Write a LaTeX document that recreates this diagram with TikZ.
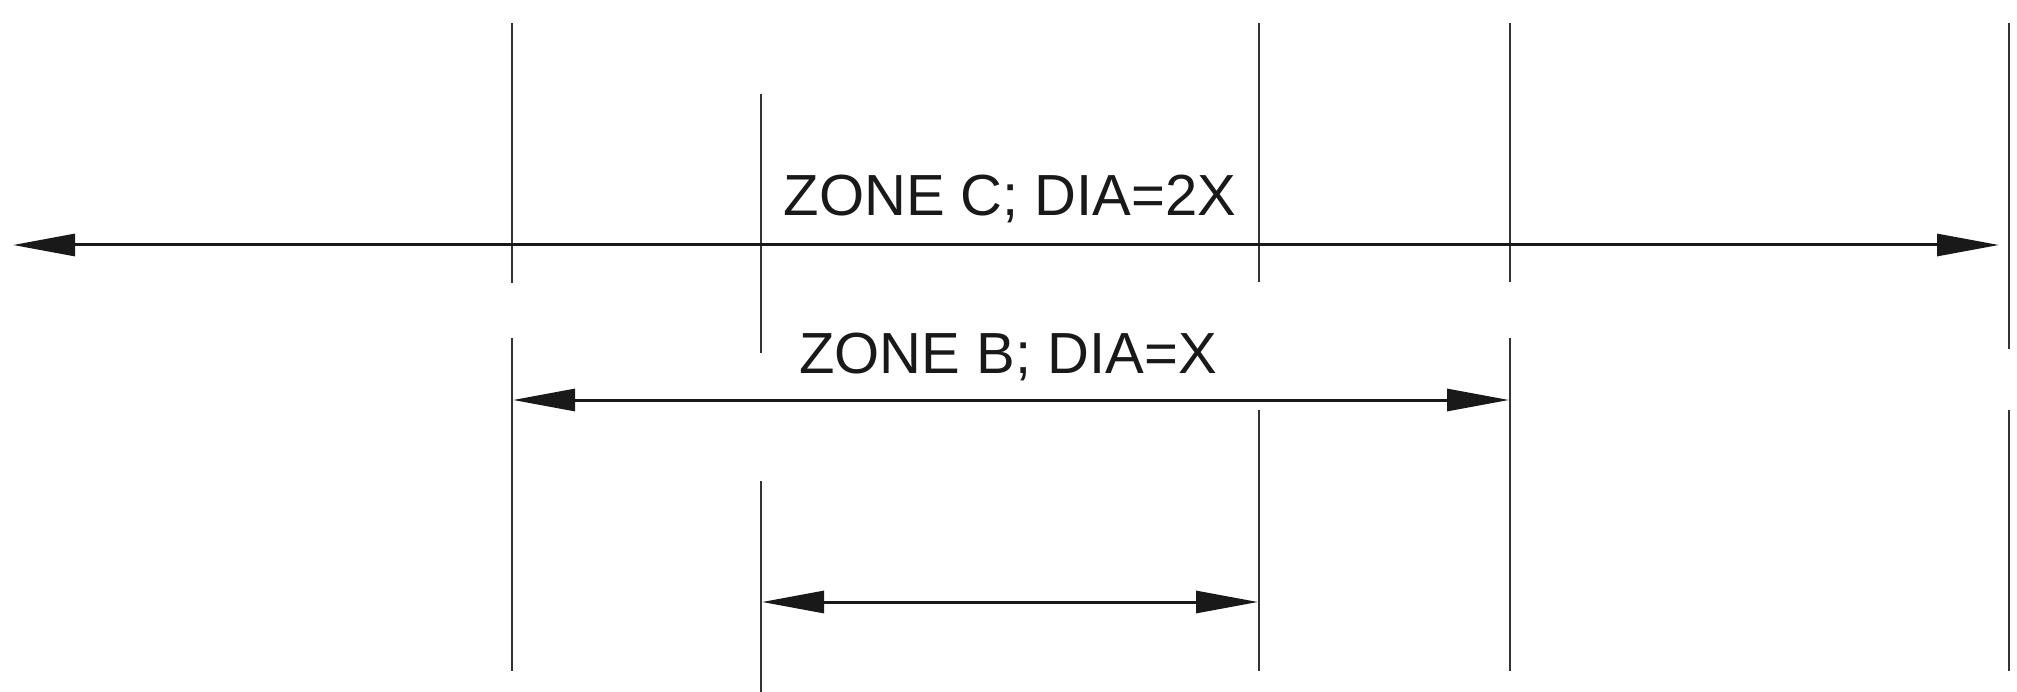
\documentclass[tikz,border=0pt]{standalone}
\usepackage{fontspec}
\setmainfont{Liberation Sans}
\usetikzlibrary{arrows.meta}
\tikzset{
  extline/.style={draw=black!80, line width=1.4pt},
  dimline/.style={draw=black!90, line width=3pt, {Triangle[length=62pt,width=22pt]}-{Triangle[length=62pt,width=22pt]}},
  label/.style={font=\fontsize{58}{62}\selectfont, anchor=base, inner sep=0pt, text=black!90}
}
\begin{document}
\begin{tikzpicture}[x=1pt,y=-1pt]
\useasboundingbox (0,0) rectangle (2017,692);
% extension lines
\coordinate (v1a) at (512,23);  \coordinate (v1b) at (512,283);
\coordinate (v1c) at (512,338); \coordinate (v1d) at (512,671);
\coordinate (v2a) at (761,94);  \coordinate (v2b) at (761,353);
\coordinate (v2c) at (761,481); \coordinate (v2d) at (761,692);
\coordinate (v3a) at (1259,23); \coordinate (v3b) at (1259,282);
\coordinate (v3c) at (1259,410);\coordinate (v3d) at (1259,671);
\coordinate (v4a) at (1510,23); \coordinate (v4b) at (1510,282);
\coordinate (v4c) at (1510,338);\coordinate (v4d) at (1510,671);
\coordinate (v5a) at (2009,23); \coordinate (v5b) at (2009,349);
\coordinate (v5c) at (2009,410);\coordinate (v5d) at (2009,671);
\draw[extline] (v1a) -- (v1b); \draw[extline] (v1c) -- (v1d);
\draw[extline] (v2a) -- (v2b); \draw[extline] (v2c) -- (v2d);
\draw[extline] (v3a) -- (v3b); \draw[extline] (v3c) -- (v3d);
\draw[extline] (v4a) -- (v4b); \draw[extline] (v4c) -- (v4d);
\draw[extline] (v5a) -- (v5b); \draw[extline] (v5c) -- (v5d);
% dimension arrows
\coordinate (cL) at (13,245);   \coordinate (cR) at (1999,245);
\coordinate (bL) at (513,400);  \coordinate (bR) at (1509,400);
\coordinate (aL) at (762,602);  \coordinate (aR) at (1258,602);
\draw[dimline] (cL) -- (cR);
\draw[dimline] (bL) -- (bR);
\draw[dimline] (aL) -- (aR);
% labels
\node[label] (zc) at (1010,216) {ZONE C; DIA=2X};
\node[label] (zb) at (1008,373) {ZONE B; DIA=X};
\end{tikzpicture}
\end{document}
